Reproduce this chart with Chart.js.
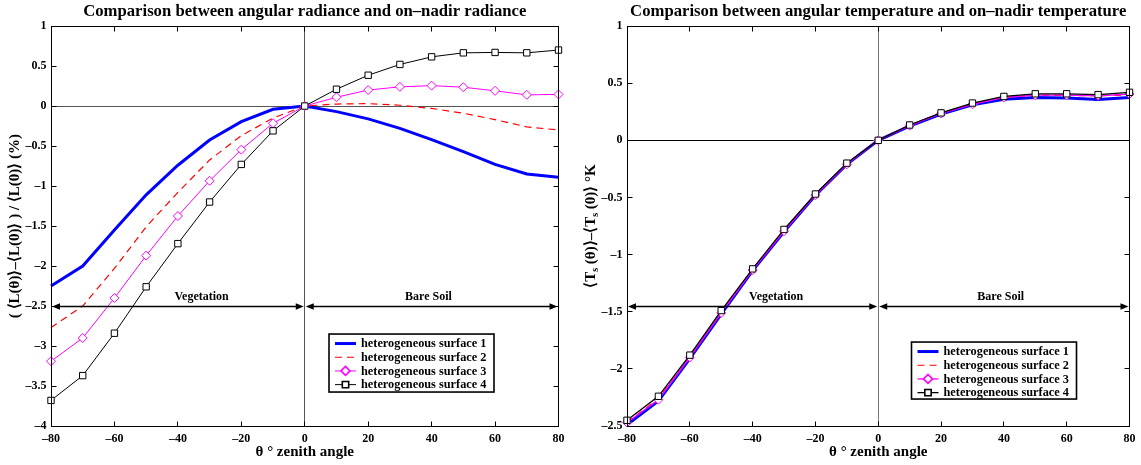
<!DOCTYPE html>
<html>
<head>
<meta charset="utf-8">
<script src="https://cdn.jsdelivr.net/npm/chart.js@4.4.1/dist/chart.umd.min.js"></script>
<style>
  html, body { margin: 0; padding: 0; background: #fff; }
  #wrap { position: relative; width: 1141px; height: 465px; }
  canvas { position: absolute; top: 0; }
  #radiance { left: 0; }
  #temperature { left: 570px; }
</style>
</head>
<body>
<div id="wrap">
  <canvas id="radiance" width="570" height="465"></canvas>
  <canvas id="temperature" width="571" height="465"></canvas>
</div>
<script>
// zenith angles (deg), negative = vegetation side
const angles = [-80, -70, -60, -50, -40, -30, -20, -10, 0, 10, 20, 30, 40, 50, 60, 70, 80];

const surfaceNames = [
  'heterogeneous surface 1',
  'heterogeneous surface 2',
  'heterogeneous surface 3',
  'heterogeneous surface 4'
];

// relative radiance difference to nadir (%)
const radSurface1 = [-2.25, -2.00, -1.55, -1.11, -0.74, -0.425, -0.195, -0.04, 0, -0.07, -0.16, -0.28, -0.42, -0.57, -0.73, -0.85, -0.89];
const radSurface2 = [-2.77, -2.50, -2.03, -1.51, -1.08, -0.675, -0.37, -0.15, 0, 0.025, 0.03, 0.01, -0.03, -0.09, -0.17, -0.26, -0.30];
const radSurface3 = [-3.19, -2.90, -2.40, -1.87, -1.375, -0.935, -0.545, -0.215, 0, 0.11, 0.20, 0.24, 0.255, 0.235, 0.19, 0.14, 0.145];
const radSurface4 = [-3.68, -3.37, -2.84, -2.26, -1.72, -1.20, -0.73, -0.31, 0, 0.21, 0.385, 0.52, 0.615, 0.665, 0.67, 0.665, 0.70];

// surface temperature difference to nadir (K)
const tmpSurface1 = [-2.49, -2.28, -1.91, -1.52, -1.14, -0.80, -0.48, -0.21, 0, 0.125, 0.23, 0.31, 0.36, 0.375, 0.37, 0.358, 0.375];
const tmpSurface2 = [-2.47, -2.26, -1.90, -1.51, -1.13, -0.79, -0.475, -0.205, 0, 0.13, 0.237, 0.318, 0.375, 0.395, 0.393, 0.39, 0.397];
const tmpSurface3 = [-2.47, -2.27, -1.90, -1.51, -1.135, -0.795, -0.48, -0.21, 0, 0.128, 0.235, 0.315, 0.375, 0.395, 0.395, 0.39, 0.405];
const tmpSurface4 = [-2.45, -2.24, -1.88, -1.49, -1.125, -0.78, -0.47, -0.20, 0, 0.134, 0.24, 0.326, 0.384, 0.407, 0.407, 0.40, 0.42];

// x ticks every 20 deg, y ticks every 0.5
const xTicks = [-80, -60, -40, -20, 0, 20, 40, 60, 80];
const radYRange = [-4, 1];
const tmpYRange = [-2.5, 1];

// cover type regions: [label, from, to, label centre]
const regions = [
  ['Vegetation', -80, 0, -32.5],
  ['Bare Soil', 0, 80, 39]
];
const radRegionY = -2.5;
const tmpRegionY = -1.45;

const SERIF = '"Liberation Serif", "Times New Roman", serif';
const font = (size, weight = 'bold') => ({ family: SERIF, size, weight });
const cssFont = (size) => `bold ${size}px ${SERIF}`;

const fmtTick = v => {
  const s = String(Math.round(Math.abs(v) * 10) / 10);
  return v < 0 ? '\u2013' + s : s;
};

function seriesStyle(i, thin) {
  const base = { fill: false, tension: 0, clip: false, pointBackgroundColor: '#fff', pointBorderWidth: 1 };
  switch (i) {
    case 0: return { ...base, borderColor: '#0000ff', borderWidth: 3, pointRadius: 0, order: 4 };
    case 1: return { ...base, borderColor: '#ff0000', borderWidth: 1.2, borderDash: [7, 5], pointRadius: 0, order: 3 };
    case 2: return { ...base, borderColor: '#ff00ff', borderWidth: thin, pointStyle: 'rectRot', pointRadius: 4.5, pointBorderColor: '#ff00ff', order: 2 };
    default: return { ...base, borderColor: '#000000', borderWidth: thin, pointStyle: 'rect', pointRadius: 4.5, pointBorderColor: '#000000', order: 1 };
  }
}

function hline(ctx, x1, x2, y) { ctx.beginPath(); ctx.moveTo(x1, y); ctx.lineTo(x2, y); ctx.stroke(); }
function vline(ctx, x, y1, y2) { ctx.beginPath(); ctx.moveTo(x, y1); ctx.lineTo(x, y2); ctx.stroke(); }

function arrowHead(ctx, tipX, y, dir) {
  ctx.beginPath();
  ctx.moveTo(tipX, y);
  ctx.lineTo(tipX - dir * 8, y - 3.2);
  ctx.lineTo(tipX - dir * 8, y + 3.2);
  ctx.closePath();
  ctx.fill();
}

// axes box, inward ticks, zero lines, region arrows and the legend box
const framePlugin = {
  id: 'frame',
  beforeDatasetsDraw(chart, args, o) {
    const { ctx, chartArea: a, scales: { x, y } } = chart;
    ctx.save();
    ctx.lineWidth = 1;
    ctx.strokeStyle = o.zeroXColor;
    hline(ctx, a.left, a.right, Math.floor(y.getPixelForValue(0)) + 0.5);
    ctx.strokeStyle = o.zeroYColor;
    vline(ctx, Math.floor(x.getPixelForValue(0)) + 0.5, a.top, a.bottom);
    ctx.restore();
  },
  afterDatasetsDraw(chart, args, o) {
    const { ctx, chartArea: a, scales: { x, y } } = chart;
    const L = Math.floor(a.left) + 0.5, R = Math.floor(a.right) + 0.5;
    const T = Math.floor(a.top) + 0.5, B = Math.floor(a.bottom) + 0.5;
    ctx.save();
    ctx.strokeStyle = '#000';
    ctx.fillStyle = '#000';
    ctx.lineWidth = 1;
    ctx.strokeRect(L, T, R - L, B - T);

    const tl = 5;
    x.ticks.forEach(t => {
      const px = Math.floor(x.getPixelForValue(t.value)) + 0.5;
      vline(ctx, px, B, B - tl);
      vline(ctx, px, T, T + tl);
    });
    y.ticks.forEach(t => {
      const py = Math.floor(y.getPixelForValue(t.value)) + 0.5;
      hline(ctx, L, L + tl, py);
      hline(ctx, R, R - tl, py);
    });

    // region arrows
    const ay = Math.round(y.getPixelForValue(o.regionY)) + 0.5;
    ctx.lineWidth = 1.5;
    ctx.font = cssFont(12);
    ctx.textAlign = 'center';
    ctx.textBaseline = 'alphabetic';
    regions.forEach(([label, from, to, mid]) => {
      const x1 = x.getPixelForValue(from) + 1, x2 = x.getPixelForValue(to) - 1;
      hline(ctx, x1 + 4, x2 - 4, ay);
      arrowHead(ctx, x1, ay, -1);
      arrowHead(ctx, x2, ay, 1);
      ctx.fillText(label, x.getPixelForValue(mid), ay - 7);
    });

    // legend
    const bx = a.left + o.legend.dx, by = a.top + o.legend.dy;
    ctx.fillStyle = '#fff';
    ctx.fillRect(bx, by, o.legend.w, o.legend.h);
    ctx.lineWidth = 1.6;
    ctx.strokeStyle = '#000';
    ctx.strokeRect(bx, by, o.legend.w, o.legend.h);
    ctx.textAlign = 'left';
    ctx.textBaseline = 'middle';
    chart.data.datasets.forEach((ds, i) => {
      const ry = by + 9.5 + i * 13.7;
      ctx.save();
      ctx.strokeStyle = ds.borderColor;
      ctx.lineWidth = ds.borderWidth;
      ctx.setLineDash(ds.borderDash || []);
      hline(ctx, bx + 6, bx + 27, ry);
      ctx.restore();
      if (ds.pointRadius > 0) {
        ctx.save();
        ctx.fillStyle = ds.pointBackgroundColor;
        ctx.strokeStyle = ds.pointBorderColor;
        Chart.helpers.drawPoint(ctx, { pointStyle: ds.pointStyle, radius: ds.pointRadius, borderWidth: 1 }, bx + 16.5, ry);
        ctx.restore();
      }
      ctx.fillStyle = '#000';
      ctx.font = cssFont(12.3);
      ctx.fillText(ds.label, bx + 32, ry + 0.5);
    });

    ctx.restore();
  },
  afterDraw(chart, args, o) {
    // y title with subscripts, drawn by hand
    if (!o.yTitleParts) return;
    const { ctx, chartArea: a } = chart;
    const main = cssFont(15), sub = cssFont(10);
    ctx.save();
    ctx.fillStyle = '#000';
    ctx.textBaseline = 'alphabetic';
    ctx.textAlign = 'left';
    let total = 0;
    o.yTitleParts.forEach(p => { ctx.font = p.sub ? sub : main; total += ctx.measureText(p.t).width; });
    ctx.translate(o.yTitleX, (a.top + a.bottom) / 2);
    ctx.rotate(-Math.PI / 2);
    let cx = -total / 2;
    o.yTitleParts.forEach(p => {
      ctx.font = p.sub ? sub : main;
      ctx.fillText(p.t, cx, p.sub ? 8 : 5);
      cx += ctx.measureText(p.t).width;
    });
    ctx.restore();
  }
};

function buildChart(id, cfg) {
  const datasets = cfg.series.map((vals, i) => ({
    label: surfaceNames[i],
    data: angles.map((a, j) => ({ x: a, y: vals[j] })),
    ...seriesStyle(i, cfg.thinWidth)
  }));
  return new Chart(document.getElementById(id), {
    type: 'line',
    data: { datasets },
    options: {
      responsive: false,
      animation: false,
      events: [],
      layout: { padding: { left: 0, right: cfg.padRight, top: 0, bottom: 0 } },
      plugins: {
        legend: { display: false },
        tooltip: { enabled: false },
        title: {
          display: true,
          text: cfg.title,
          fullSize: false,
          color: '#000',
          font: font(16.7),
          padding: { top: 1.5, bottom: 4.5 }
        },
        frame: {
          regionY: cfg.regionY,
          legend: cfg.legend,
          zeroXColor: cfg.zeroXColor,
          zeroYColor: cfg.zeroYColor,
          yTitleParts: cfg.yTitleParts,
          yTitleX: cfg.yTitleX
        }
      },
      scales: {
        x: {
          type: 'linear',
          min: -80,
          max: 80,
          afterBuildTicks: s => { s.ticks = xTicks.map(v => ({ value: v })); },
          ticks: { color: '#000', font: font(12), padding: 5.5, maxRotation: 0, autoSkip: false, callback: fmtTick },
          grid: { display: false, drawTicks: false },
          border: { display: false },
          title: { display: true, text: 'θ ° zenith angle', color: '#000', font: font(15), padding: { top: 0, bottom: 3.5 } },
          afterFit: s => { s.height = 39; }
        },
        y: {
          type: 'linear',
          min: cfg.yRange[0],
          max: cfg.yRange[1],
          ticks: { stepSize: 0.5, color: '#000', font: font(12), padding: 4.5, autoSkip: false, callback: fmtTick },
          grid: { display: false, drawTicks: false },
          border: { display: false },
          title: {
            display: !!cfg.yTitle,
            text: cfg.yTitle || '',
            color: '#000',
            font: font(15),
            padding: { top: 6, bottom: 0 }
          },
          afterFit: s => { s.width = cfg.yAxisWidth; }
        }
      }
    },
    plugins: [framePlugin]
  });
}

buildChart('radiance', {
  title: 'Comparison between angular radiance and on\u2013nadir radiance',
  series: [radSurface1, radSurface2, radSurface3, radSurface4],
  yRange: radYRange,
  yTitle: '( ⟨L(θ)⟩\u2013⟨L(0)⟩ ) / ⟨L(0)⟩ (%)',
  yAxisWidth: 51,
  padRight: 7,
  thinWidth: 1,
  regionY: radRegionY,
  zeroXColor: '#555',
  zeroYColor: '#555',
  legend: { dx: 278, dy: 308, w: 165, h: 58 }
});

buildChart('temperature', {
  title: 'Comparison between angular temperature and on\u2013nadir temperature',
  series: [tmpSurface1, tmpSurface2, tmpSurface3, tmpSurface4],
  yRange: tmpYRange,
  yTitleParts: [
    { t: '⟨T' }, { t: 's', sub: true }, { t: ' (θ)⟩\u2013⟨T' }, { t: 's', sub: true }, { t: ' (0)⟩ °K' }
  ],
  yTitleX: 20,
  yAxisWidth: 57,
  padRight: 5,
  thinWidth: 1.3,
  regionY: tmpRegionY,
  zeroXColor: '#000',
  zeroYColor: '#777',
  legend: { dx: 284.5, dy: 316, w: 165, h: 57 }
});
</script>
</body>
</html>
